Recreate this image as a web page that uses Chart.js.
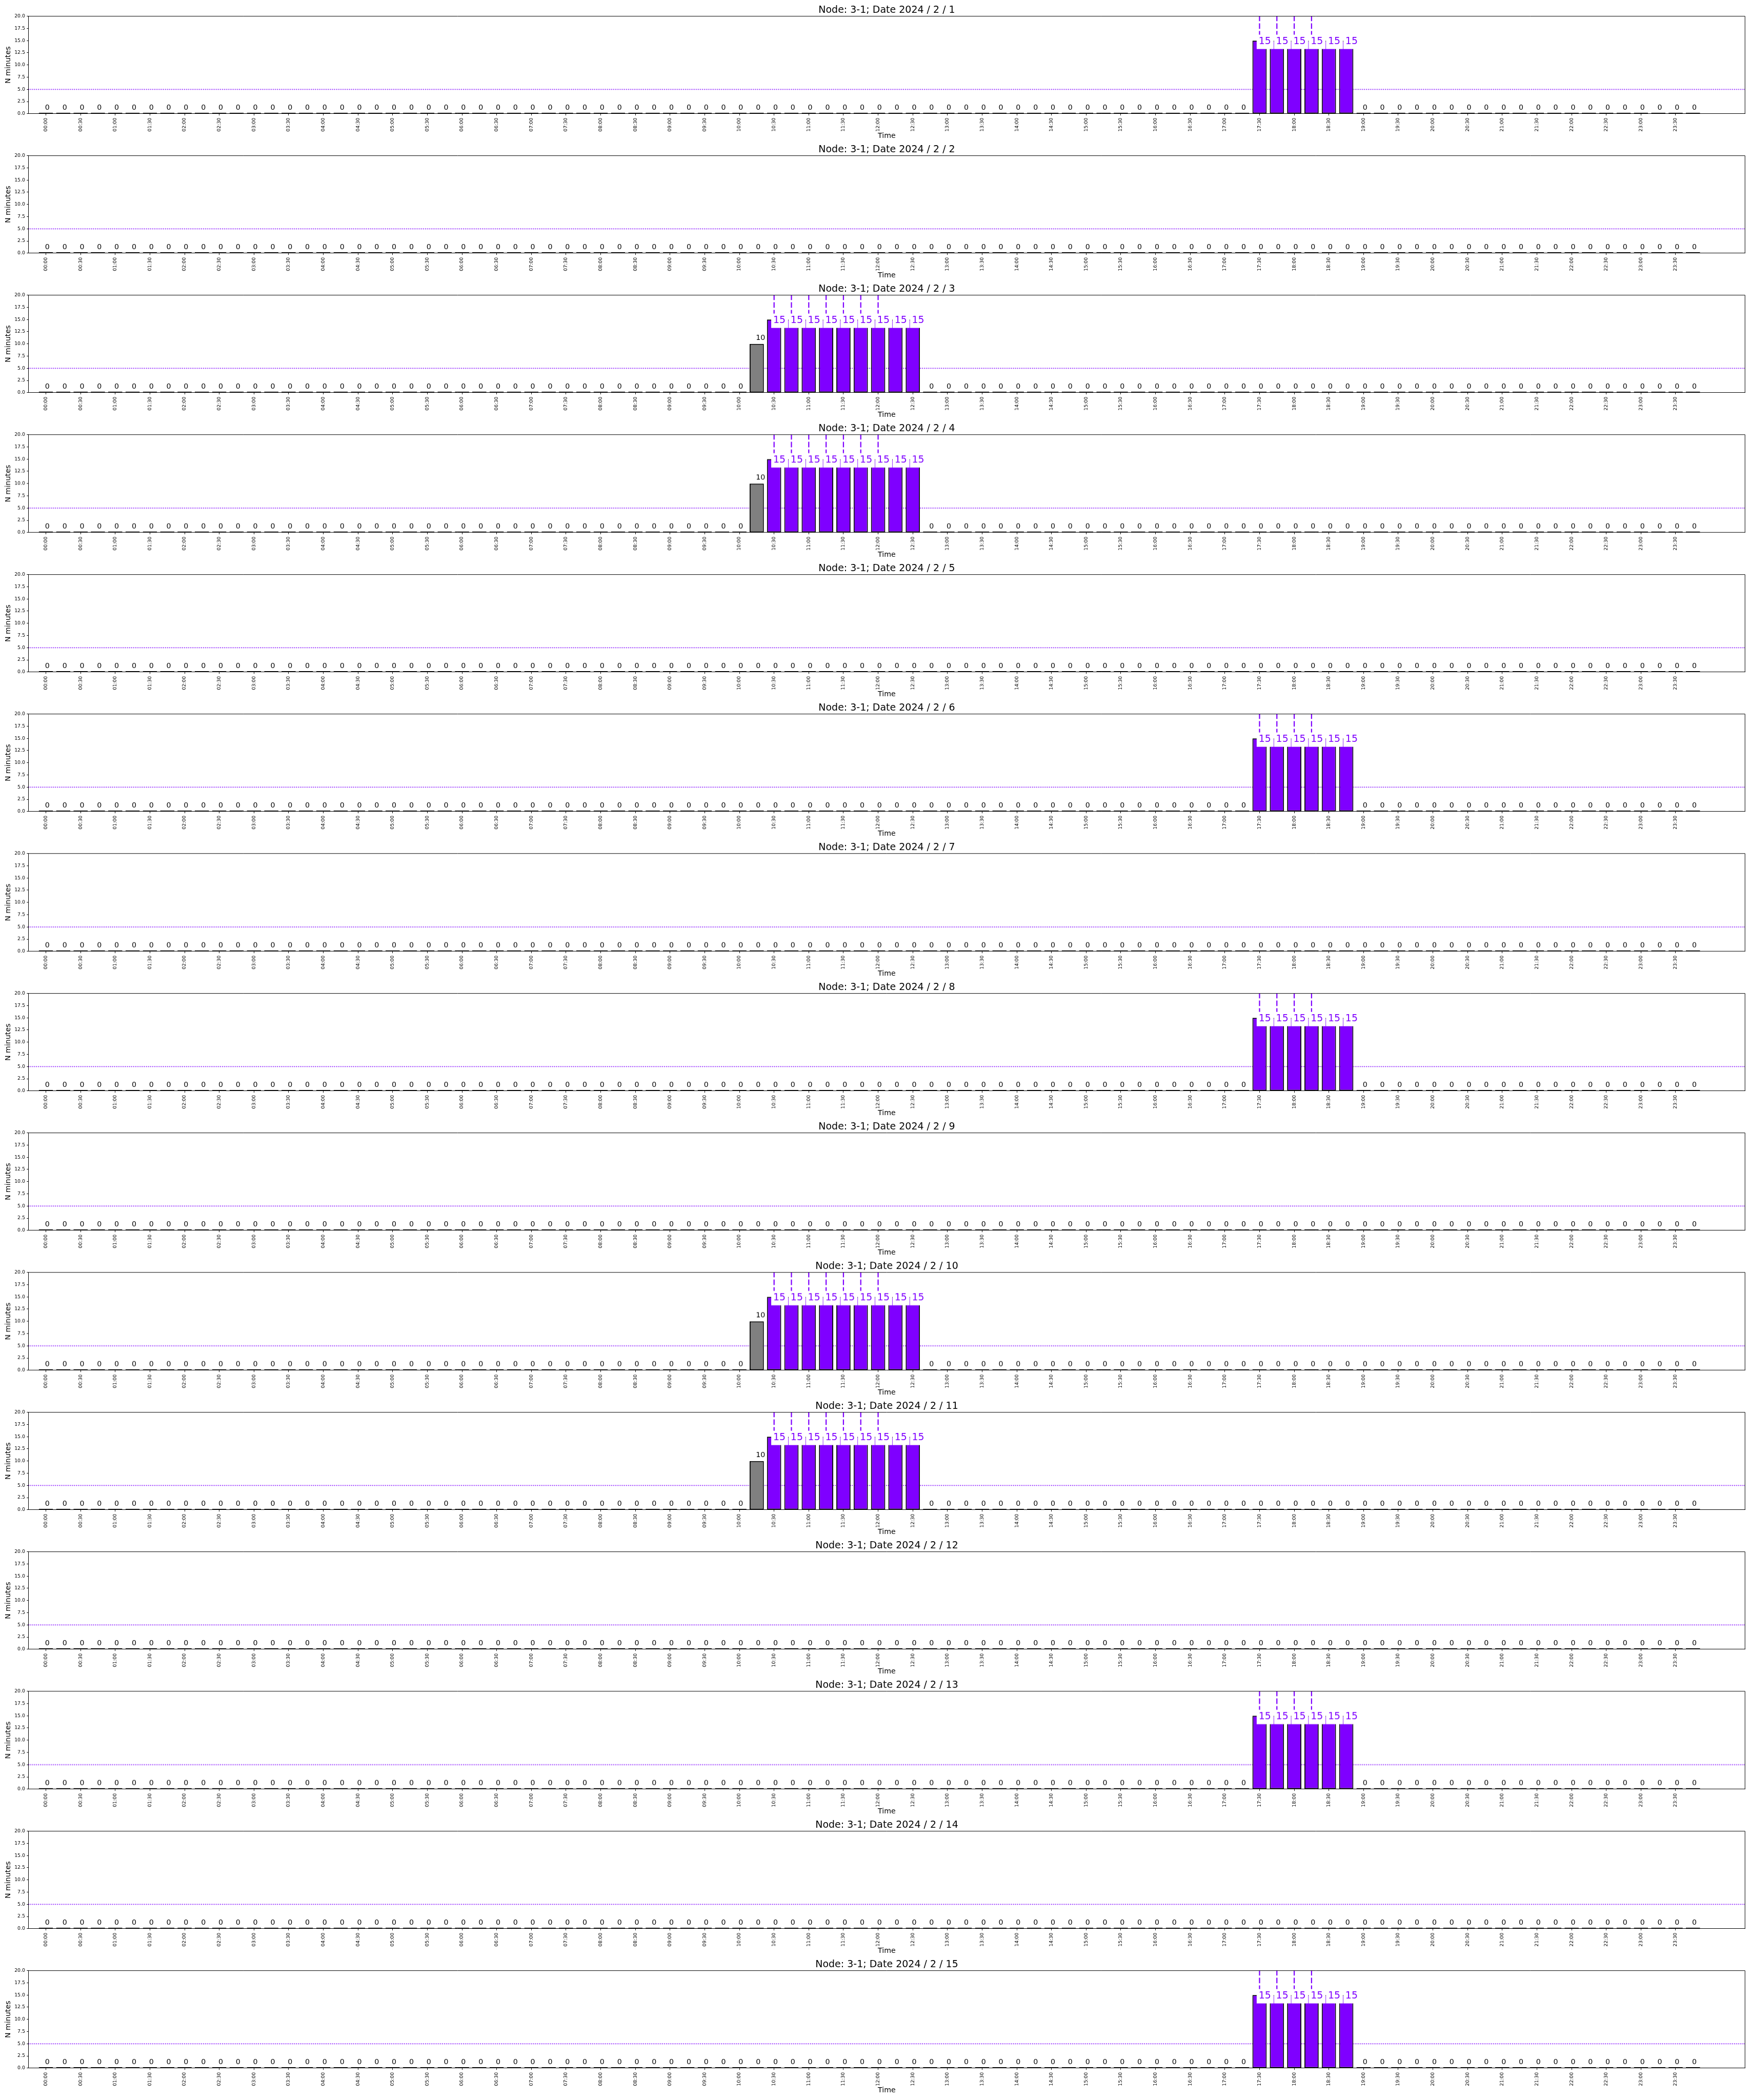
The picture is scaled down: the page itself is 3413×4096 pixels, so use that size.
<!DOCTYPE html>
<html>
<head>
<meta charset="utf-8">
<script src="https://cdn.jsdelivr.net/npm/chart.js@4.4.1/dist/chart.umd.min.js"></script>
<style>
html, body { margin: 0; padding: 0; background: #ffffff; }
body { width: 3413px; height: 4096px; position: relative; overflow: hidden; }
.panel { position: absolute; left: 0; width: 3413px; }
</style>
</head>
<body>
<script>
// ---------------- data ----------------
const nodeName = "3-1";
const dates = ["2024 / 2 / 1", "2024 / 2 / 2", "2024 / 2 / 3", "2024 / 2 / 4", "2024 / 2 / 5",
               "2024 / 2 / 6", "2024 / 2 / 7", "2024 / 2 / 8", "2024 / 2 / 9", "2024 / 2 / 10",
               "2024 / 2 / 11", "2024 / 2 / 12", "2024 / 2 / 13", "2024 / 2 / 14", "2024 / 2 / 15"];

const slots = ["00:00","00:15","00:30","00:45","01:00","01:15","01:30","01:45","02:00","02:15","02:30","02:45",
               "03:00","03:15","03:30","03:45","04:00","04:15","04:30","04:45","05:00","05:15","05:30","05:45",
               "06:00","06:15","06:30","06:45","07:00","07:15","07:30","07:45","08:00","08:15","08:30","08:45",
               "09:00","09:15","09:30","09:45","10:00","10:15","10:30","10:45","11:00","11:15","11:30","11:45",
               "12:00","12:15","12:30","12:45","13:00","13:15","13:30","13:45","14:00","14:15","14:30","14:45",
               "15:00","15:15","15:30","15:45","16:00","16:15","16:30","16:45","17:00","17:15","17:30","17:45",
               "18:00","18:15","18:30","18:45","19:00","19:15","19:30","19:45","20:00","20:15","20:30","20:45",
               "21:00","21:15","21:30","21:45","22:00","22:15","22:30","22:45","23:00","23:15","23:30","23:45"];

const tickLabels = slots.filter((s, i) => i % 2 === 0);

// minutes used per 15-minute slot (rows of 24 values = 6 hours)
const feb01 = [0,0,0,0,0,0, 0,0,0,0,0,0, 0,0,0,0,0,0, 0,0,0,0,0,0,
               0,0,0,0,0,0, 0,0,0,0,0,0, 0,0,0,0,0,0, 0,0,0,0,0,0,
               0,0,0,0,0,0, 0,0,0,0,0,0, 0,0,0,0,0,0, 0,0,0,0, 15,15,
               15,15,15,15, 0,0, 0,0,0,0,0,0, 0,0,0,0,0,0, 0,0,0,0,0,0];
const feb02 = [0,0,0,0,0,0, 0,0,0,0,0,0, 0,0,0,0,0,0, 0,0,0,0,0,0,
               0,0,0,0,0,0, 0,0,0,0,0,0, 0,0,0,0,0,0, 0,0,0,0,0,0,
               0,0,0,0,0,0, 0,0,0,0,0,0, 0,0,0,0,0,0, 0,0,0,0,0,0,
               0,0,0,0,0,0, 0,0,0,0,0,0, 0,0,0,0,0,0, 0,0,0,0,0,0];
const feb03 = [0,0,0,0,0,0, 0,0,0,0,0,0, 0,0,0,0,0,0, 0,0,0,0,0,0,
               0,0,0,0,0,0, 0,0,0,0,0,0, 0,0,0,0,0, 10, 15,15,15,15,15,15,
               15,15,15, 0,0,0, 0,0,0,0,0,0, 0,0,0,0,0,0, 0,0,0,0,0,0,
               0,0,0,0,0,0, 0,0,0,0,0,0, 0,0,0,0,0,0, 0,0,0,0,0,0];
const feb04 = [0,0,0,0,0,0, 0,0,0,0,0,0, 0,0,0,0,0,0, 0,0,0,0,0,0,
               0,0,0,0,0,0, 0,0,0,0,0,0, 0,0,0,0,0, 10, 15,15,15,15,15,15,
               15,15,15, 0,0,0, 0,0,0,0,0,0, 0,0,0,0,0,0, 0,0,0,0,0,0,
               0,0,0,0,0,0, 0,0,0,0,0,0, 0,0,0,0,0,0, 0,0,0,0,0,0];
const feb05 = [0,0,0,0,0,0, 0,0,0,0,0,0, 0,0,0,0,0,0, 0,0,0,0,0,0,
               0,0,0,0,0,0, 0,0,0,0,0,0, 0,0,0,0,0,0, 0,0,0,0,0,0,
               0,0,0,0,0,0, 0,0,0,0,0,0, 0,0,0,0,0,0, 0,0,0,0,0,0,
               0,0,0,0,0,0, 0,0,0,0,0,0, 0,0,0,0,0,0, 0,0,0,0,0,0];
const feb06 = [0,0,0,0,0,0, 0,0,0,0,0,0, 0,0,0,0,0,0, 0,0,0,0,0,0,
               0,0,0,0,0,0, 0,0,0,0,0,0, 0,0,0,0,0,0, 0,0,0,0,0,0,
               0,0,0,0,0,0, 0,0,0,0,0,0, 0,0,0,0,0,0, 0,0,0,0, 15,15,
               15,15,15,15, 0,0, 0,0,0,0,0,0, 0,0,0,0,0,0, 0,0,0,0,0,0];
const feb07 = [0,0,0,0,0,0, 0,0,0,0,0,0, 0,0,0,0,0,0, 0,0,0,0,0,0,
               0,0,0,0,0,0, 0,0,0,0,0,0, 0,0,0,0,0,0, 0,0,0,0,0,0,
               0,0,0,0,0,0, 0,0,0,0,0,0, 0,0,0,0,0,0, 0,0,0,0,0,0,
               0,0,0,0,0,0, 0,0,0,0,0,0, 0,0,0,0,0,0, 0,0,0,0,0,0];
const feb08 = [0,0,0,0,0,0, 0,0,0,0,0,0, 0,0,0,0,0,0, 0,0,0,0,0,0,
               0,0,0,0,0,0, 0,0,0,0,0,0, 0,0,0,0,0,0, 0,0,0,0,0,0,
               0,0,0,0,0,0, 0,0,0,0,0,0, 0,0,0,0,0,0, 0,0,0,0, 15,15,
               15,15,15,15, 0,0, 0,0,0,0,0,0, 0,0,0,0,0,0, 0,0,0,0,0,0];
const feb09 = [0,0,0,0,0,0, 0,0,0,0,0,0, 0,0,0,0,0,0, 0,0,0,0,0,0,
               0,0,0,0,0,0, 0,0,0,0,0,0, 0,0,0,0,0,0, 0,0,0,0,0,0,
               0,0,0,0,0,0, 0,0,0,0,0,0, 0,0,0,0,0,0, 0,0,0,0,0,0,
               0,0,0,0,0,0, 0,0,0,0,0,0, 0,0,0,0,0,0, 0,0,0,0,0,0];
const feb10 = [0,0,0,0,0,0, 0,0,0,0,0,0, 0,0,0,0,0,0, 0,0,0,0,0,0,
               0,0,0,0,0,0, 0,0,0,0,0,0, 0,0,0,0,0, 10, 15,15,15,15,15,15,
               15,15,15, 0,0,0, 0,0,0,0,0,0, 0,0,0,0,0,0, 0,0,0,0,0,0,
               0,0,0,0,0,0, 0,0,0,0,0,0, 0,0,0,0,0,0, 0,0,0,0,0,0];
const feb11 = [0,0,0,0,0,0, 0,0,0,0,0,0, 0,0,0,0,0,0, 0,0,0,0,0,0,
               0,0,0,0,0,0, 0,0,0,0,0,0, 0,0,0,0,0, 10, 15,15,15,15,15,15,
               15,15,15, 0,0,0, 0,0,0,0,0,0, 0,0,0,0,0,0, 0,0,0,0,0,0,
               0,0,0,0,0,0, 0,0,0,0,0,0, 0,0,0,0,0,0, 0,0,0,0,0,0];
const feb12 = [0,0,0,0,0,0, 0,0,0,0,0,0, 0,0,0,0,0,0, 0,0,0,0,0,0,
               0,0,0,0,0,0, 0,0,0,0,0,0, 0,0,0,0,0,0, 0,0,0,0,0,0,
               0,0,0,0,0,0, 0,0,0,0,0,0, 0,0,0,0,0,0, 0,0,0,0,0,0,
               0,0,0,0,0,0, 0,0,0,0,0,0, 0,0,0,0,0,0, 0,0,0,0,0,0];
const feb13 = [0,0,0,0,0,0, 0,0,0,0,0,0, 0,0,0,0,0,0, 0,0,0,0,0,0,
               0,0,0,0,0,0, 0,0,0,0,0,0, 0,0,0,0,0,0, 0,0,0,0,0,0,
               0,0,0,0,0,0, 0,0,0,0,0,0, 0,0,0,0,0,0, 0,0,0,0, 15,15,
               15,15,15,15, 0,0, 0,0,0,0,0,0, 0,0,0,0,0,0, 0,0,0,0,0,0];
const feb14 = [0,0,0,0,0,0, 0,0,0,0,0,0, 0,0,0,0,0,0, 0,0,0,0,0,0,
               0,0,0,0,0,0, 0,0,0,0,0,0, 0,0,0,0,0,0, 0,0,0,0,0,0,
               0,0,0,0,0,0, 0,0,0,0,0,0, 0,0,0,0,0,0, 0,0,0,0,0,0,
               0,0,0,0,0,0, 0,0,0,0,0,0, 0,0,0,0,0,0, 0,0,0,0,0,0];
const feb15 = [0,0,0,0,0,0, 0,0,0,0,0,0, 0,0,0,0,0,0, 0,0,0,0,0,0,
               0,0,0,0,0,0, 0,0,0,0,0,0, 0,0,0,0,0,0, 0,0,0,0,0,0,
               0,0,0,0,0,0, 0,0,0,0,0,0, 0,0,0,0,0,0, 0,0,0,0, 15,15,
               15,15,15,15, 0,0, 0,0,0,0,0,0, 0,0,0,0,0,0, 0,0,0,0,0,0];

const series = [feb01, feb02, feb03, feb04, feb05, feb06, feb07, feb08,
                feb09, feb10, feb11, feb12, feb13, feb14, feb15];

// slots marked with a dashed vertical line
const eveningMarks = ["17:30", "17:45", "18:00", "18:15"];
const morningMarks = ["10:30", "10:45", "11:00", "11:15", "11:30", "11:45", "12:00"];
const dashedMarks = [eveningMarks, [], morningMarks, morningMarks, [], eveningMarks, [], eveningMarks,
                     [], morningMarks, morningMarks, [], eveningMarks, [], eveningMarks];

const thresholdValue = 5;
const yMin = 0, yMax = 20, yStep = 2.5;
const xMin = -1, xMax = 98;

// ---------------- layout / style ----------------
const S = 3413 / 5000;
const W = 3413;
const PITCH = 398.95 * S;
const AXES_TOP0 = 45.7 * S;
const AXES_H = 278.6 * S;
const TOP_SPACE = 42 * S;
const LEFT = 81.6 * S;
const RIGHT = 4985.7 * S;
const PURPLE = 'rgb(127,0,255)';
const GRAY = 'rgb(128,128,128)';
const FONT = 'DejaVu Sans';

Chart.defaults.font.family = FONT;
Chart.defaults.color = '#000';

const labelPlugin = {
  id: 'valueLabels',
  afterDatasetsDraw(chart) {
    const ctx = chart.ctx;
    const meta = chart.getDatasetMeta(1);
    const vals = chart.data.datasets[1].data;
    const ys = chart.scales.y;
    ctx.save();
    ctx.textAlign = 'left';
    ctx.textBaseline = 'alphabetic';
    meta.data.forEach((el, i) => {
      const v = vals[i].y;
      const c = el.x;
      const yTop = ys.getPixelForValue(v);
      if (v >= 15) {
        ctx.fillStyle = '#ffffff';
        ctx.fillRect(c - 5.6, yTop - 11.4, 33.0, 27.8);
        ctx.fillStyle = PURPLE;
        ctx.font = '19px "DejaVu Sans"';
        ctx.fillText(String(v), c - 1.7, yTop + 7.2);
      } else {
        ctx.fillStyle = '#000000';
        ctx.font = '14.2px "DejaVu Sans"';
        ctx.fillText(String(v), c - 1.7, yTop - 7.85);
      }
    });
    const a = chart.chartArea;
    ctx.strokeStyle = '#000000';
    ctx.lineWidth = 1;
    ctx.beginPath();
    ctx.moveTo(a.left, a.top);
    ctx.lineTo(a.right, a.top);
    ctx.lineTo(a.right, a.bottom);
    ctx.stroke();
    ctx.restore();
  }
};

for (let p = 0; p < series.length; p++) {
  const vals = series[p];
  if (vals.length !== slots.length) console.error('bad length', p, vals.length);
  const div = document.createElement('div');
  div.className = 'panel';
  div.style.top = (AXES_TOP0 + p * PITCH - TOP_SPACE) + 'px';
  div.style.height = PITCH + 'px';
  const canvas = document.createElement('canvas');
  div.appendChild(canvas);
  document.body.appendChild(div);

  const barData = vals.map((v, i) => ({ x: i, y: v }));
  const barColors = vals.map(v => v >= 15 ? PURPLE : (v > 0 ? GRAY : '#000000'));
  const dashData = [];
  dashedMarks[p].forEach(t => {
    const i = slots.indexOf(t);
    dashData.push({ x: i, y: yMax }, { x: i, y: 16.2 }, { x: i, y: null });
  });

  new Chart(canvas, {
    type: 'bar',
    data: {
      datasets: [
        {
          type: 'line',
          data: [{ x: xMin, y: thresholdValue }, { x: xMax, y: thresholdValue }],
          borderColor: PURPLE,
          borderWidth: 1.7,
          borderDash: [1.6, 2.1],
          pointRadius: 0,
          order: 3
        },
        {
          type: 'bar',
          data: barData,
          backgroundColor: barColors,
          borderColor: '#000000',
          borderWidth: 1.9,
          borderSkipped: false,
          barPercentage: 0.82,
          categoryPercentage: 1,
          minBarLength: 1.9,
          order: 2
        },
        {
          type: 'line',
          data: dashData,
          borderColor: PURPLE,
          borderWidth: 2.25,
          borderDash: [10.9, 4.1],
          borderDashOffset: 1.2,
          pointRadius: 0,
          spanGaps: false,
          order: 1
        }
      ]
    },
    options: {
      responsive: true,
      maintainAspectRatio: false,
      animation: false,
      devicePixelRatio: 1,
      events: [],
      layout: { padding: { left: 0, right: W - RIGHT, top: 0, bottom: 0 } },
      plugins: {
        legend: { display: false },
        tooltip: { enabled: false },
        title: {
          display: true,
          fullSize: false,
          text: 'Node: ' + nodeName + '; Date ' + dates[p],
          color: '#000',
          font: { family: FONT, size: 19, weight: 'normal', lineHeight: 1.2 },
          padding: { top: TOP_SPACE - 22.8, bottom: 0 }
        }
      },
      scales: {
        x: {
          type: 'linear',
          min: xMin,
          max: xMax,
          offset: false,
          grid: { display: true, drawOnChartArea: false, drawTicks: true, tickLength: 3.4,
                  tickWidth: 1, color: '#000', tickColor: '#000', offset: false },
          border: { display: true, color: '#000', width: 1 },
          ticks: {
            autoSkip: false, minRotation: 90, maxRotation: 90, padding: 4.5,
            color: '#000', font: { family: FONT, size: 9.4 },
            callback: (value, index) => tickLabels[index]
          },
          afterBuildTicks: (axis) => { axis.ticks = tickLabels.map((t, k) => ({ value: k * 2 })); },
          afterFit: (axis) => { axis.height = PITCH - (TOP_SPACE + AXES_H); },
          title: { display: true, text: 'Time', color: '#000',
                   font: { family: FONT, size: 14.2, lineHeight: 1.2 },
                   padding: { top: 0, bottom: 1.6 } }
        },
        y: {
          min: yMin,
          max: yMax,
          grid: { display: true, drawOnChartArea: false, drawTicks: true, tickLength: 3.4,
                  tickWidth: 1, color: '#000', tickColor: '#000' },
          border: { display: true, color: '#000', width: 1 },
          ticks: { stepSize: yStep, padding: 3.3, color: '#000', font: { family: FONT, size: 9.4 },
                   callback: (v) => Number(v).toFixed(1) },
          afterFit: (axis) => { axis.width = LEFT; },
          title: { display: true, text: 'N minutes', color: '#000',
                   font: { family: FONT, size: 14.2, lineHeight: 1.2 },
                   padding: { top: 8.2, bottom: 0 } }
        }
      }
    },
    plugins: [labelPlugin]
  });
}
</script>
</body>
</html>
